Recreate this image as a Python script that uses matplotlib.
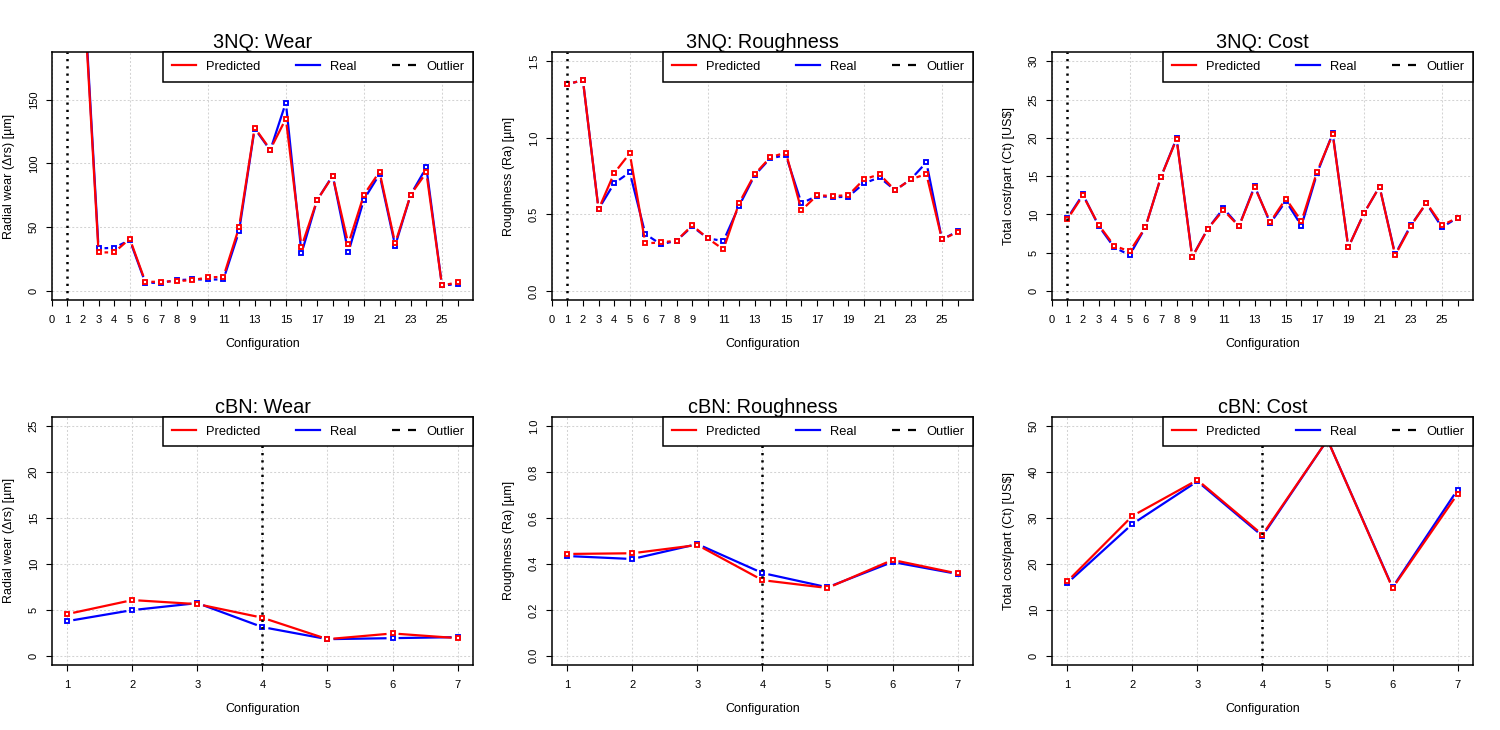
import matplotlib
matplotlib.use("Agg")
import matplotlib.pyplot as plt
from matplotlib.lines import Line2D
import numpy as np

plt.rcParams['font.family'] = ['Liberation Sans', 'DejaVu Sans']

# ---------------- data ----------------
config_3nq = list(range(1, 27))
config_cbn = list(range(1, 8))

wear_3nq_pred = [430, 245, 30.3, 30.3, 41.0, 7.3, 7.3, 7.8, 8.6, 10.7, 11.2, 49.8, 128.0,
                 110.8, 135.0, 34.7, 71.2, 90.0, 36.8, 75.4, 93.4, 37.3, 75.6, 92.9, 4.4, 6.8]
wear_3nq_real = [440, 250, 33.4, 33.9, 40.0, 6.5, 6.5, 8.6, 9.1, 9.1, 9.1, 46.7, 127.3,
                 110.3, 147.6, 29.5, 71.2, 90.5, 30.3, 71.7, 91.5, 35.5, 75.6, 96.8, 4.4, 5.5]

rough_3nq_pred = [1.350, 1.376, 0.533, 0.769, 0.899, 0.311, 0.318, 0.329, 0.429, 0.344, 0.272,
                  0.573, 0.762, 0.873, 0.904, 0.527, 0.625, 0.621, 0.625, 0.729, 0.762, 0.658,
                  0.729, 0.764, 0.337, 0.385]
rough_3nq_real = [1.350, 1.376, 0.535, 0.703, 0.775, 0.372, 0.305, 0.329, 0.422, 0.344, 0.327,
                  0.555, 0.755, 0.867, 0.886, 0.573, 0.621, 0.612, 0.616, 0.703, 0.742, 0.658,
                  0.729, 0.840, 0.337, 0.390]

cost_3nq_pred = [9.36, 12.49, 8.66, 5.92, 5.18, 8.32, 14.89, 19.85, 4.40, 8.14, 10.58, 8.45,
                 13.58, 9.01, 12.06, 9.10, 15.59, 20.46, 5.70, 10.14, 13.63, 4.66, 8.45, 11.54,
                 8.58, 9.58]
cost_3nq_real = [9.49, 12.63, 8.53, 5.70, 4.70, 8.32, 14.89, 19.94, 4.48, 8.14, 10.80, 8.49,
                 13.71, 8.84, 11.75, 8.53, 15.37, 20.59, 5.70, 10.14, 13.63, 4.79, 8.58, 11.45,
                 8.32, 9.58]

wear_cbn_pred = [4.54, 6.06, 5.62, 4.14, 1.81, 2.43, 1.92]
wear_cbn_real = [3.77, 4.97, 5.73, 3.12, 1.81, 1.92, 2.03]

rough_cbn_pred = [0.443, 0.446, 0.482, 0.329, 0.295, 0.417, 0.358]
rough_cbn_real = [0.434, 0.421, 0.486, 0.360, 0.298, 0.408, 0.356]

cost_cbn_pred = [16.18, 30.41, 38.24, 26.34, 47.0, 14.73, 35.20]
cost_cbn_real = [15.82, 28.66, 37.95, 26.05, 47.0, 14.88, 36.14]

outlier_3nq = 1
outlier_cbn = 4

xticks_3nq = list(range(0, 27))
xticklabels_3nq = ['0', '1', '2', '3', '4', '5', '6', '7', '8', '9', '', '11', '', '13', '',
                   '15', '', '17', '', '19', '', '21', '', '23', '', '25', '']
xgrid_3nq = [0, 5, 10, 15, 20, 25]
xticks_cbn = list(range(1, 8))
xticklabels_cbn = [str(v) for v in xticks_cbn]

titles = ['3NQ: Wear', '3NQ: Roughness', '3NQ: Cost', 'cBN: Wear', 'cBN: Roughness', 'cBN: Cost']
ylabels = ['Radial wear (\u0394rs) [\u00b5m]', 'Roughness (Ra) [\u00b5m]', 'Total cost/part (Ct) [US$]'] * 2
ylims = [(0, 180), (0, 1.5), (0, 30), (0, 25), (0, 1.0), (0, 50)]
yticks_list = [[0, 50, 100, 150], [0.0, 0.5, 1.0, 1.5], [0, 5, 10, 15, 20, 25, 30],
               [0, 5, 10, 15, 20, 25], [0.0, 0.2, 0.4, 0.6, 0.8, 1.0], [0, 10, 20, 30, 40, 50]]
yticklabels_list = [['0', '50', '100', '150'], ['0.0', '0.5', '1.0', '1.5'],
                    ['0', '5', '10', '15', '20', '25', '30'],
                    ['0', '5', '10', '15', '20', '25'],
                    ['0.0', '0.2', '0.4', '0.6', '0.8', '1.0'],
                    ['0', '10', '20', '30', '40', '50']]
legend_labels = ['Predicted', 'Real', 'Outlier']

# ---------------- layout ----------------
W, H = 1500, 730
fig = plt.figure(figsize=(W / 100, H / 100), dpi=100)

col_left = [51.7, 551.7, 1051.7]
ax_w = 421.5
row_top = [52.0, 416.7]
ax_h = 248.3

RED = '#FF0000'
BLUE = '#0000FF'
GRID = '#D3D3D3'
GAP_PX = 6.0
LW = 1.6


def pad(lo, hi, f=0.04):
    r = hi - lo
    return lo - f * r, hi + f * r


def broken_line(ax, xs, ys, gap, **kw):
    """R type='b' style: segments shortened near each point."""
    pts = ax.transData.transform(np.column_stack([xs, ys]))
    inv = ax.transData.inverted()
    sx, sy = [], []
    for p0, p1 in zip(pts[:-1], pts[1:]):
        d = p1 - p0
        L = np.hypot(d[0], d[1])
        if L <= 2 * gap:
            continue
        u = d / L
        a = inv.transform(p0 + u * gap)
        b = inv.transform(p1 - u * gap)
        sx += [a[0], b[0], np.nan]
        sy += [a[1], b[1], np.nan]
    ax.plot(sx, sy, **kw)


series = [
    (config_3nq, wear_3nq_pred, wear_3nq_real, outlier_3nq),
    (config_3nq, rough_3nq_pred, rough_3nq_real, outlier_3nq),
    (config_3nq, cost_3nq_pred, cost_3nq_real, outlier_3nq),
    (config_cbn, wear_cbn_pred, wear_cbn_real, outlier_cbn),
    (config_cbn, rough_cbn_pred, rough_cbn_real, outlier_cbn),
    (config_cbn, cost_cbn_pred, cost_cbn_real, outlier_cbn),
]

for i, (xs, pred, real, outl) in enumerate(series):
    r, c = divmod(i, 3)
    left = col_left[c] / W
    bottom = (H - row_top[r] - ax_h) / H
    ax = fig.add_axes([left, bottom, ax_w / W, ax_h / H])

    ax.set_xlim(*pad(min(xs), max(xs)))
    ax.set_ylim(*pad(*ylims[i]))

    if r == 0:
        ax.set_xticks(xticks_3nq)
        ax.set_xticklabels(xticklabels_3nq)
        xgrid = xgrid_3nq
    else:
        ax.set_xticks(xticks_cbn)
        ax.set_xticklabels(xticklabels_cbn)
        xgrid = xticks_cbn
    ax.set_yticks(yticks_list[i])
    ax.set_yticklabels(yticklabels_list[i], rotation=90, va='center')

    ax.tick_params(axis='both', which='major', direction='out', length=4.3, width=0.8,
                   labelsize=8, colors='black')
    ax.tick_params(axis='x', pad=6.5)
    ax.tick_params(axis='y', pad=5)

    # grid (R grid(): dotted light gray)
    for gx in xgrid:
        ax.axvline(gx, color=GRID, lw=0.75, ls=(0, (1.9, 1.9)), zorder=0.5)
    for gy in yticks_list[i]:
        ax.axhline(gy, color=GRID, lw=0.75, ls=(0, (1.9, 1.9)), zorder=0.5)

    for sp in ax.spines.values():
        sp.set_linewidth(1.1)
        sp.set_color('black')
        sp.set_zorder(4)

    # lines (type 'b')
    broken_line(ax, xs, real, GAP_PX, color=BLUE, lw=LW, zorder=2, solid_capstyle='butt')
    ax.plot(xs, real, 's', ms=2.8, mfc='white', mec=BLUE, mew=1.35, zorder=2.1)
    broken_line(ax, xs, pred, GAP_PX, color=RED, lw=LW, zorder=2.2, solid_capstyle='butt')
    ax.plot(xs, pred, 's', ms=2.8, mfc='white', mec=RED, mew=1.35, zorder=2.3)

    ax.axvline(outl, color='black', lw=1.8, ls=(0, (0.9, 2.0)), zorder=2.5)

    ax.set_title(titles[i], fontsize=14.3, pad=1.2)
    ax.set_xlabel('Configuration', fontsize=9)
    ax.xaxis.set_label_coords(0.5, -0.152)
    ax.set_ylabel(ylabels[i], fontsize=9)
    ax.yaxis.set_label_coords(-0.088, 0.5)

    handles = [Line2D([], [], color=RED, lw=LW),
               Line2D([], [], color=BLUE, lw=LW),
               Line2D([], [], color='black', lw=LW, ls=(0, (3.6, 3.6)))]
    leg = ax.legend(handles, legend_labels, ncol=3, loc='upper right', bbox_to_anchor=(1, 1),
                    borderaxespad=0, frameon=True, fancybox=False, edgecolor='black',
                    framealpha=1, fontsize=9.3, handlelength=1.86, handletextpad=0.78,
                    columnspacing=2.77, borderpad=0.68)
    leg.get_frame().set_linewidth(1.1)
    leg.set_zorder(5)

fig.savefig('out.png', dpi=100, facecolor='white')
